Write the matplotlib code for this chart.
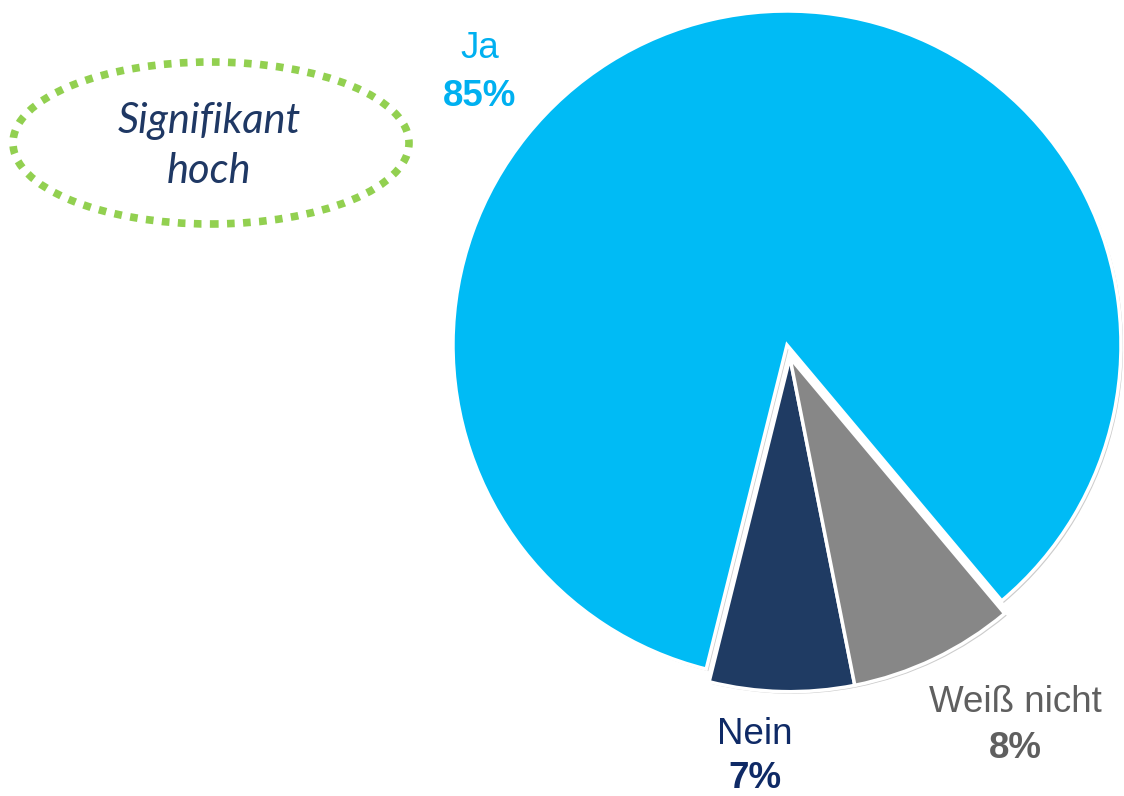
import numpy as np
import matplotlib
matplotlib.use("Agg")
import matplotlib.pyplot as plt
from matplotlib.patches import Ellipse
import matplotlib.patheffects as pe

# ---- data ----
categories = ["Ja", "Nein", "Weiß nicht"]
values = [85, 7, 8]
pct_labels = ["85%", "7%", "8%"]
slice_colors = ["#00BBF5", "#1F3B63", "#878787"]
label_colors = ["#00B0F0", "#0F2A66", "#5F5F5F"]
note_text = "Signifikant\nhoch"

W, H = 1124, 796
fig = plt.figure(figsize=(W / 100, H / 100), dpi=100)
fig.patch.set_facecolor("white")
ax = fig.add_axes([0, 0, 1, 1])

cx, cy, R = 787, H - 345, 334
wedges, _ = ax.pie(values, colors=slice_colors, startangle=-50, counterclock=True,
                   center=(cx, cy), radius=R,
                   wedgeprops=dict(edgecolor="white", linewidth=2.5))

# pull "Nein" and "Weiß nicht" out together
total = sum(values)
a0 = -50 + 360 * values[0] / total
a1 = 310
mid = np.deg2rad((a0 + a1) / 2)
off = 13
for w in wedges[1:]:
    w.set_center((cx + off * np.cos(mid), cy + off * np.sin(mid)))

for w in wedges:
    w.set_path_effects([pe.SimplePatchShadow(offset=(1.5, -1.5), alpha=0.2, shadow_rgbFace="black"),
                        pe.Normal()])

ax.set_xlim(0, W)
ax.set_ylim(0, H)
ax.set_aspect("equal")
ax.axis("off")

font = "Liberation Sans"
fs = 26.5
# labels
lab_pos = [(480, 48, 97), (755, 735, 779), (1015, 702, 748)]
for (x, y1, y2), cat, pct, col in zip(lab_pos, categories, pct_labels, label_colors):
    ax.text(x, H - y1, cat, ha="center", va="center", fontsize=fs, color=col, family=font)
    ax.text(x, H - y2, pct, ha="center", va="center", fontsize=fs, color=col,
            family=font, fontweight="bold")

# dotted ellipse note
ell = Ellipse((211, H - 143), 396, 162, fill=False, edgecolor="#92D050",
              linewidth=5.5, linestyle=(0, (1, 1.1)))
ell.set_capstyle("butt")
ax.add_patch(ell)
ax.text(209, H - 146, note_text, ha="center", va="center", fontsize=30,
        color="#1F3864", family="Lato", style="italic", fontweight="normal",
        linespacing=1.4)

fig.savefig("out.png", dpi=100, facecolor="white")
